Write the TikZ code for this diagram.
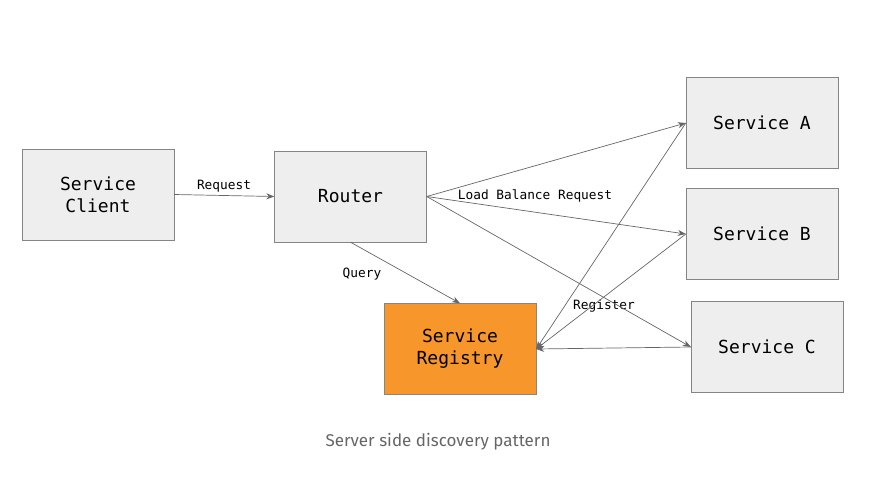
\documentclass[tikz,border=0pt]{standalone}
\usepackage{fontspec}
\setmonofont{DejaVu Sans Mono}
\setsansfont{Fira Sans}
\usetikzlibrary{arrows.meta,positioning}
\definecolor{boxgray}{HTML}{EEEEEE}
\definecolor{linegray}{HTML}{666666}
\definecolor{regorange}{HTML}{F7962A}

\begin{document}
\begin{tikzpicture}[x=1pt, y=-1pt, >={Stealth[length=8pt,width=6pt]},
  svc/.style={draw=linegray!80, fill=boxgray, minimum width=152pt, minimum height=91pt, align=center, font=\fontsize{18}{22}\selectfont\ttfamily},
  conn/.style={->, draw=linegray, line width=0.7pt},
  lbl/.style={font=\fontsize{12.8}{14}\selectfont\ttfamily, inner sep=1pt}]
\path[use as bounding box] (0,0) rectangle (881,480);
\node[svc] (client) at (98,194.5) {Service\\Client};
\node[svc] (router) at (350.5,196.5) {Router};
\node[svc] (svcA) at (762,123) {Service A};
\node[svc] (svcB) at (762,234) {Service B};
\node[svc] (svcC) at (767,347) {Service C};
\node[svc, fill=regorange] (registry) at (460,349) {Service\\Registry};
\node[lbl] (reqlbl) at (224,186) {Request};
\node[lbl] (lblbl) at (535,196) {Load Balance Request};
\node[lbl] (querylbl) at (362,274) {Query};
\node[lbl] (reglbl) at (604,306) {Register};
\node[font=\fontsize{17}{20}\selectfont\sffamily, text=linegray] (caption) at (438,442) {Server side discovery pattern};
\draw[conn] (client.east) -- (router.west);
\draw[conn] (router.east) -- (svcA.west);
\draw[conn] (router.east) -- (svcB.west);
\draw[conn] (router.east) -- (svcC.west);
\draw[conn] (router.south) -- (registry.north);
\draw[conn] (svcA.west) -- (registry.east);
\draw[conn] (svcB.west) -- (registry.east);
\draw[conn] (svcC.west) -- (registry.east);
\end{tikzpicture}
\end{document}
